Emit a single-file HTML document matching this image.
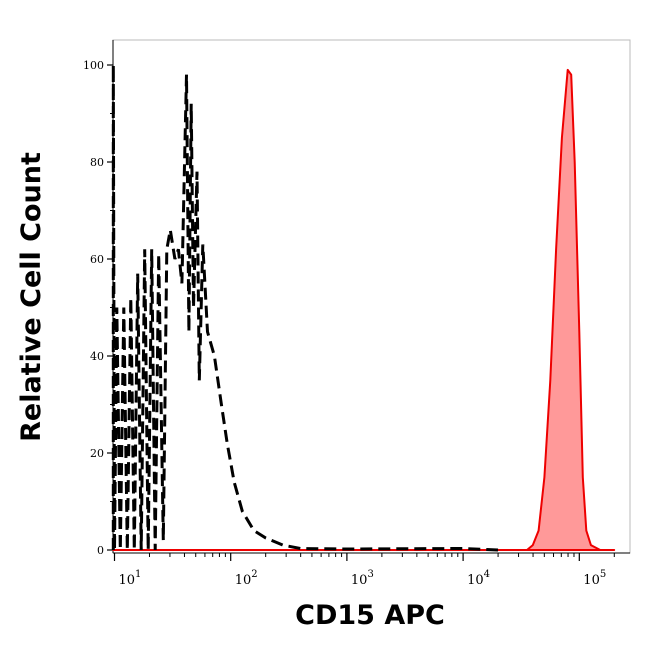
<!DOCTYPE html>
<html><head><meta charset="utf-8"><style>
body{margin:0;background:#fff;width:650px;height:645px;overflow:hidden}
text{font-family:"DejaVu Serif","Liberation Serif",serif}
.t{font-family:"DejaVu Sans","Liberation Sans",sans-serif;font-weight:bold;font-size:27px}
</style></head><body>
<svg id="c" width="650" height="645" xmlns="http://www.w3.org/2000/svg">
<rect x="113" y="40" width="517" height="513" fill="#fff" stroke="#bbb" stroke-width="1"/>
<g id="ax"></g>
<g id="series"></g>
<text class="t" x="370" y="624" text-anchor="middle">CD15 APC</text>
<text class="t" transform="translate(40,297) rotate(-90)" text-anchor="middle">Relative Cell Count</text>
</svg>
<script>
const yTicks=[0,20,40,60,80,100];
const xDecades=[1,2,3,4,5];
const controlLog=[0.99,0.99,1.0,1.02,1.05,1.08,1.11,1.14,1.17,1.20,1.23,1.26,1.29,1.32,1.35,1.38,1.42,1.45,1.48,1.52,1.55,1.58,1.62,1.64,1.66,1.68,1.71,1.73,1.76,1.80,1.86,1.92,1.97,2.03,2.1,2.2,2.3,2.45,2.6,3.0,4.0,4.3];
const controlVal=[0,100,0,50,0,50,0,52,0,57,0,62,0,62,0,61,2,62,66,60,62,55,98,45,92,50,78,35,63,45,40,30,22,14,8,4,2.5,1,0.3,0.2,0.3,0];
const stainLog=[0.99,4.55,4.6,4.65,4.7,4.75,4.8,4.85,4.9,4.93,4.96,5.0,5.03,5.06,5.1,5.18,5.3];
const stainVal=[0,0,1,4,15,35,62,85,99,98,80,45,15,4,1,0,0];
const NS="http://www.w3.org/2000/svg";
const X=l=>114.5+(l-1)*116.2;
const Y=v=>550-v*4.85;
const ax=document.getElementById('ax'),sg=document.getElementById('series');
function mk(tag,at,p){const e=document.createElementNS(NS,tag);for(const k in at)e.setAttribute(k,at[k]);p.appendChild(e);return e;}
yTicks.forEach(v=>{
 const t=mk('line',{x1:107,x2:113,y1:Y(v),y2:Y(v),stroke:'#000','stroke-width':1.2},ax);
 
 
 const tx=mk('text',{x:104,y:Y(v)+4,'text-anchor':'end','font-size':11},ax);
 tx.textContent=v;
 
 
 if(v<100){const m=mk('line',{x1:110,x2:113,y1:Y(v+10),y2:Y(v+10),stroke:'#000'},ax);
 
 }
});
xDecades.forEach(d=>{
 const t=mk('line',{x1:X(d),x2:X(d),y1:553,y2:561,stroke:'#000','stroke-width':1.2},ax);
 
 
 const tx=mk('text',{x:X(d)+4,y:584,'font-size':13},ax);
 tx.innerHTML='10<tspan dy="-7" font-size="10">'+d+'</tspan>';
 
 
 for(let k=2;k<10;k++){const l=d+Math.log10(k);if(X(l)>630)break;
  const m=mk('line',{x1:X(l),x2:X(l),y1:553,y2:557,stroke:'#000'},ax);
  
  }
});
const axl=mk('line',{x1:113,x2:630,y1:553,y2:553,stroke:'#000','stroke-width':1},ax);


const yl=mk('line',{x1:113,x2:113,y1:40,y2:553,stroke:'#000','stroke-width':1},ax);


let sp=stainLog.map((l,i)=>X(l).toFixed(1)+','+Y(stainVal[i]).toFixed(1)).join(' ');
const sf=mk('polygon',{points:sp,fill:'#f99',stroke:'#e00','stroke-width':2,'stroke-linejoin':'round'},sg);


let cp=controlLog.map((l,i)=>X(l).toFixed(1)+','+Y(controlVal[i]).toFixed(1)).join(' ');
const cl=mk('polyline',{points:cp,fill:'none',stroke:'#000','stroke-width':3,'stroke-dasharray':'12 6'},sg);


</script>
</body></html>
